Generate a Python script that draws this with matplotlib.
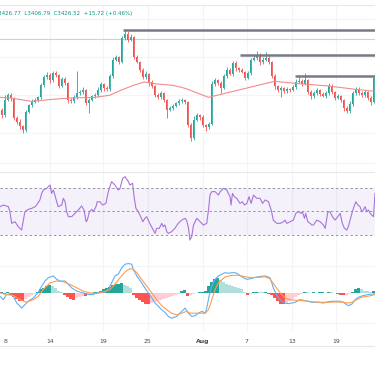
import matplotlib
matplotlib.use("Agg")
import matplotlib.pyplot as plt
import numpy as np

# ---------------- data ----------------
first_open = 3320
closes = [3312, 3335, 3342, 3338, 3308, 3302, 3296, 3290, 3317, 3327,
          3332, 3335, 3339, 3357, 3369, 3372, 3365, 3375, 3372, 3356,
          3366, 3360, 3335, 3333, 3339, 3345, 3347, 3350, 3330, 3335,
          3341, 3342, 3350, 3359, 3353, 3351, 3371, 3395, 3399, 3392,
          3428, 3434, 3425, 3429, 3399, 3392, 3380, 3369, 3374, 3362,
          3356, 3342, 3339, 3345, 3335, 3320, 3323, 3326, 3330, 3333,
          3335, 3332, 3297, 3278, 3305, 3312, 3309, 3297, 3294, 3299,
          3359, 3365, 3360, 3353, 3371, 3380, 3374, 3390, 3383, 3380,
          3377, 3368, 3375, 3395, 3398, 3402, 3392, 3395, 3398, 3392,
          3371, 3356, 3350, 3353, 3348, 3351, 3350, 3354, 3362, 3363,
          3359, 3365, 3347, 3341, 3345, 3350, 3344, 3341, 3345, 3356,
          3347, 3338, 3341, 3335, 3323, 3318, 3329, 3345, 3351, 3345,
          3342, 3347, 3338, 3332, 3368]
upper_wick = [3, 8, 4, 3, 2, 3, 4, 2, 3, 2,
              4, 3, 2, 4, 3, 5, 3, 4, 3, 2,
              4, 3, 2, 3, 4, 34, 3, 4, 2, 3,
              2, 3, 4, 3, 2, 3, 3, 4, 3, 2,
              3, 7, 4, 5, 2, 3, 2, 3, 4, 2,
              3, 2, 3, 4, 2, 2, 3, 3, 2, 4,
              3, 2, 2, 3, 6, 3, 2, 3, 2, 3,
              4, 3, 2, 4, 3, 4, 3, 4, 3, 2,
              3, 2, 4, 3, 4, 7, 3, 4, 9, 3,
              2, 3, 2, 3, 2, 3, 2, 3, 4, 9,
              3, 10, 2, 3, 4, 3, 2, 3, 3, 4,
              3, 2, 3, 2, 2, 3, 4, 3, 4, 3,
              4, 3, 2, 3, 4]
lower_wick = [4, 3, 2, 4, 3, 3, 4, 4, 3, 2,
              3, 2, 3, 2, 3, 2, 4, 3, 2, 3,
              2, 3, 4, 3, 2, 3, 2, 3, 3, 15,
              2, 3, 2, 3, 5, 3, 2, 3, 2, 3,
              2, 3, 3, 2, 3, 2, 3, 3, 2, 6,
              3, 2, 3, 2, 3, 12, 2, 3, 2, 3,
              2, 3, 3, 5, 3, 2, 4, 3, 6, 3,
              2, 3, 2, 8, 2, 3, 2, 3, 4, 3,
              2, 3, 2, 3, 2, 3, 4, 3, 2, 3,
              3, 4, 3, 10, 3, 2, 3, 2, 3, 2,
              3, 2, 3, 4, 3, 2, 3, 2, 3, 2,
              3, 3, 2, 3, 4, 3, 2, 3, 2, 3,
              2, 3, 3, 4, 2]

ma_x = [-0.5, 3, 10, 17, 23, 31, 36, 40, 44, 47.5, 52, 57, 60, 61.5, 69, 91, 98, 109, 118, 124.5]
ma_v = [3339, 3338, 3333, 3336, 3338, 3339, 3342, 3350, 3357, 3362, 3359, 3357, 3354, 3352, 3339, 3363, 3360, 3356, 3351, 3348]

levels = [3440, 3403, 3371]
level_start = [40.5, 79.5, 97.8]
last_price = 3426.5

rsi_x = [-0.5, 0.6, 2.3, 2.8, 3.4, 4.5, 5.6, 6.7, 7.3, 7.8, 8.9, 10.1, 11.2, 11.7, 12.8, 13.4, 13.9,
         15.1, 15.6, 16.2, 16.7, 17.3, 17.8, 18.4, 18.9, 20.1, 20.6, 21.2, 21.7, 22.3, 23.4, 24.5,
         25.6, 26.7, 27.5, 28.2, 28.6, 29.3, 30.1, 30.6, 31.5, 31.9, 32.8, 33.7, 34.8, 35.6, 36.7,
         37.8, 38.9, 39.5, 40.4, 41.2, 42.3, 42.8, 43.7, 44.2, 44.8, 45.6, 46.4, 47.1, 47.8, 48.4,
         48.9, 49.7, 50.6, 51.2, 51.7, 52.6, 53.4, 53.9, 54.5, 55.1, 55.6, 56.7, 57.8, 58.9, 60.1,
         61.2, 61.7, 62.3, 62.8, 63.4, 64.0, 65.1, 66.2, 67.3, 68.4, 69.0, 69.5, 70.1, 71.2, 72.3,
         72.9, 74.0, 75.1, 75.6, 76.2, 76.5, 77.0, 77.6, 78.4, 79.5, 80.3, 81.0, 81.8, 82.5, 83.2,
         84.0, 85.1, 86.2, 87.0, 87.9, 89.0, 89.9, 90.6, 91.8, 92.9, 94.0, 94.5, 95.1, 96.2, 97.3,
         98.1, 99.0, 99.9, 100.3, 101.0, 101.4, 102.1, 102.9, 103.4, 104.0, 105.1, 106.2, 107.3,
         107.9, 108.8, 109.5, 110.3, 111.2, 112.1, 112.9, 113.6, 114.3, 115.1, 115.6, 116.5, 117.3,
         118.1, 118.8, 119.5, 120.1, 120.6, 121.2, 121.8, 122.3, 122.9, 123.4, 124.0, 124.5]
rsi_v = [53.7, 55.1, 53.7, 49.4, 39.5, 40.9, 36.7, 33.8, 42.3, 49.4, 51.4, 52.3, 53.7, 55.1, 59.4, 65.0, 67.9,
         69.3, 70.7, 72.1, 65.0, 67.9, 63.6, 57.9, 53.7, 55.1, 60.8, 57.9, 49.4, 45.2, 45.2, 48.0,
         50.9, 54.3, 50.9, 40.9, 42.3, 49.4, 51.4, 49.4, 53.7, 57.9, 57.9, 55.1, 56.5, 66.5, 75.0,
         72.1, 67.9, 69.3, 77.8, 79.2, 75.0, 72.1, 73.6, 62.2, 52.3, 49.4, 45.2, 40.9, 43.8, 45.2,
         42.3, 38.1, 33.8, 31.0, 35.3, 35.3, 39.5, 36.7, 38.1, 32.4, 31.0, 32.4, 35.3, 39.5, 42.3,
         43.8, 42.0, 36.0, 25.3, 28.2, 38.1, 43.8, 40.9, 38.1, 39.5, 50.9, 63.6, 66.5, 66.5, 63.6,
         66.5, 69.3, 67.9, 65.0, 62.2, 55.1, 65.0, 62.2, 60.8, 56.5, 57.9, 55.1, 56.5, 62.2, 56.5,
         63.6, 60.8, 60.8, 56.5, 59.4, 57.9, 50.9, 42.3, 39.5, 39.5, 40.9, 42.3, 39.5, 40.9, 42.3,
         48.0, 49.4, 48.0, 49.4, 43.8, 48.0, 40.9, 39.5, 38.1, 38.1, 42.3, 40.9, 38.1,
         35.3, 49.4, 49.4, 45.2, 42.3, 45.2, 48.0, 39.5, 35.3, 33.8, 36.7, 45.2, 52.3,
         57.9, 55.1, 53.7, 49.4, 50.9, 53.7, 49.4, 50.9, 48.0, 46.6, 45.2, 65.0]

macd_x = [-0.5, 0.6, 1.7, 2.8, 3.9, 5.1, 6.2, 6.7, 7.8, 8.9, 10.6, 12.3, 13.4, 14.5, 15.6, 17.3, 18.4,
          19.5, 21.2, 22.3, 23.4, 25.1, 27.3, 29.0, 30.6, 31.7, 33.4, 34.5, 35.6, 36.7, 37.8, 38.9,
          40.1, 41.2, 42.3, 43.4, 43.9, 45.1, 46.7, 47.8, 48.9, 50.1, 51.2, 52.3, 53.4, 54.5, 55.6,
          56.7, 58.4, 60.1, 61.2, 62.3, 63.4, 64.5, 65.6, 66.8, 67.9, 68.4, 69.2, 70.1, 71.2, 72.3,
          73.4, 74.5, 75.6, 76.8, 77.9, 79.0, 80.6, 81.8, 82.9, 84.0, 85.6, 87.9, 89.5, 90.1, 90.6,
          91.4, 92.3, 93.4, 94.5, 95.6, 96.8, 97.9, 99.5, 100.6, 101.8, 103.4, 105.6, 107.3, 108.4,
          110.1, 111.8, 112.9, 114.0, 115.1, 115.6, 116.8, 117.9, 119.0, 120.6, 122.3, 124.0, 124.5]
macd_v = [-1.8, -3.5, -1.0, -0.5, -1.8, -5.2, -6.8, -7.7, -6.0, -4.3, -2.7, 0.2, 3.2, 5.7, 7.3, 8.2, 6.5,
          5.7, 5.7, 4.0, 2.3, 0.7, -0.2, -1.0, -1.0, -0.2, 0.2, 0.2, 1.5, 4.8, 8.2, 9.0,
          12.3, 14.0, 14.3, 14.0, 11.5, 8.2, 4.8, 2.3, -0.2, -2.7, -5.2, -6.8, -8.5, -9.8, -11.8,
          -12.7, -11.8, -9.3, -7.7, -10.2, -11.8, -11.5, -10.2, -9.3, -10.2, -7.7, -1.8, 3.2, 6.5, 8.2,
          9.0, 9.8, 9.5, 9.8, 9.8, 9.0, 7.3, 6.5, 6.8, 7.3, 7.8, 8.2, 7.3, 4.8, 2.3,
          -0.2, -2.7, -4.3, -5.2, -5.5, -5.2, -4.8, -3.5, -3.8, -4.3, -4.8, -4.8, -5.2, -4.7,
          -4.3, -4.3, -4.3, -4.8, -6.0, -6.5, -5.7, -3.5, -2.3, -1.5, -1.0, -0.7, -0.2]

sig_x = [-0.5, 1.7, 3.9, 6.2, 8.4, 10.6, 12.3, 13.9, 16.2, 18.4, 20.6, 22.8, 25.1, 27.3, 29.5, 31.7,
         33.9, 36.2, 37.8, 39.5, 41.2, 42.8, 43.9, 45.1, 46.7, 48.4, 50.1, 51.7, 53.4, 55.1, 56.7,
         58.4, 60.1, 61.7, 62.9, 64.5, 66.2, 67.9, 69.0, 70.1, 71.2, 72.3, 74.5, 76.8, 79.0, 81.2,
         83.4, 85.6, 87.9, 89.5, 91.2, 92.9, 94.5, 96.2, 97.9, 100.1, 102.3, 104.5, 106.8, 109.0,
         111.2, 113.4, 115.6, 116.8, 118.4, 120.1, 122.3, 124.0, 124.5]
sig_v = [-0.2, -1.0, -1.5, -3.5, -4.8, -3.5, -1.8, 1.5, 4.8, 5.7, 5.3, 4.0, 2.3, 0.7, -0.2, -0.5,
         0.2, 1.5, 4.0, 7.3, 10.2, 11.8, 11.5, 9.8, 6.5, 3.2, -0.2, -3.5, -6.5, -8.5, -10.2,
         -11.0, -10.2, -9.3, -10.2, -10.2, -10.2, -10.2, -8.5, -3.5, 1.5, 4.8, 7.7, 8.5, 8.5, 7.8,
         7.3, 7.5, 7.8, 6.8, 3.2, -0.2, -2.7, -3.5, -3.8, -4.0, -4.3, -4.7, -4.8, -4.8,
         -4.7, -4.7, -5.2, -4.8, -3.5, -2.3, -1.8, -1.2, -1.0]

hist = [0.5, -0.5, 0.3, -1, -2, -3, -4, -4, -3, -2,
        -1, -0.5, 0.5, 1.5, 2, 3, 3.5, 3, 2, 1,
        0.5, -1, -2, -3, -3.5, -2.5, -2, -1.5, -1.5, -1,
        -0.5, 0.3, 0.5, 1, 1.5, 2, 2.5, 3.5, 4, 4.2,
        4.5, 3.8, 3, 2, -1, -2.5, -3.5, -4.5, -5.5, -5.8,
        -5, -4.5, -4, -3.5, -3, -2.5, -2, -1.5, -1, -0.5,
        1, 1.2, -1.5, -1.2, -0.8, -0.3, 0.2, 0.3, 1, 3,
        5, 6.5, 7, 6, 5, 4.2, 3.5, 3, 2.5, 2,
        1.5, 0.5, -1, -0.8, 0.3, 0.4, 0.3, 0.2, 0.3, -0.5,
        -1, -2.5, -4, -5.5, -5.8, -5, -4, -3, -2, -1,
        -0.5, 0.4, 0.3, -0.3, 0.2, -0.4, 0.3, 0.4, -0.3, 0.5,
        0.3, -0.3, -0.5, -1, -1.2, -1, -0.5, 0.5, 1.5, 2,
        1.5, 1, 0.8, 0.5, 0.8]

tick_pos = [1.2, 16.2, 33.8, 48.8, 67.2, 81.8, 96.8, 111.5]
tick_lab = ["8", "14", "19", "25", "Aug", "7", "13", "19"]
header = "H3426.77  L3406.79  C3426.52  +15.72 (+0.46%)"

# ---------------- styling ----------------
UP = "#26a69a"
DN = "#ef5350"
GRID = "#f3f4f8"
SEP = "#e6e8ee"

fig = plt.figure(figsize=(3.75, 3.66), dpi=100)
H = 366.0
def box(top, bot):
    return [0, 1 - bot / H, 1, (bot - top) / H]

ax_p = fig.add_axes(box(5, 172))
ax_r = fig.add_axes(box(172, 249), sharex=ax_p)
ax_m = fig.add_axes(box(249, 331), sharex=ax_p)

N = len(closes)
idx = np.arange(N)
c = np.array(closes, float)
o = np.concatenate([[first_open], c[:-1]])
hi = np.maximum(o, c) + np.array(upper_wick)
lo = np.minimum(o, c) - np.array(lower_wick)
col = np.where(c >= o, UP, DN)

for ax in (ax_p, ax_r, ax_m):
    for s in ax.spines.values():
        s.set_visible(False)
    ax.tick_params(left=False, right=False, labelleft=False, bottom=False, labelbottom=False)
    for t in tick_pos[1:]:
        ax.axvline(t, color=GRID, lw=0.8, zorder=0)
    ax.set_facecolor("white")

# price panel
ax_p.set_xlim(-0.5, N - 0.5)
ax_p.set_ylim(3485 - 1.5 * 172, 3485 - 1.5 * 5)
for g in [3485 - 1.5 * y for y in (19, 57, 95, 133, 163)]:
    ax_p.axhline(g, color=GRID, lw=0.8, zorder=0)
ax_p.vlines(idx, lo, hi, colors=col, lw=0.6, zorder=2)
body = np.abs(c - o)
body = np.where(body < 0.6, 0.6, body)
ax_p.bar(idx, body, bottom=np.minimum(o, c), width=0.62, color=col, lw=0, zorder=3)
ax_p.plot(ma_x, ma_v, color="#f28b90", lw=0.8, zorder=4)
ax_p.axhline(last_price, color="#b2dfdb", lw=0.8, zorder=1)
for lv, st in zip(levels, level_start):
    ax_p.hlines(lv, st, N, colors="#787b86", lw=1.8, zorder=5)
ax_p.axhline(3485 - 1.5 * 5, color=SEP, lw=0.8)
fig.text(-6 / 375, 1 - 14 / H, header, color="#089981", fontsize=4.0, va="center", ha="left")

# RSI panel
ax_r.set_ylim(17.7, 83.2)
ax_r.axhspan(30, 70, color="#7e57c2", alpha=0.08, lw=0)
for lv in (70, 50, 30):
    ax_r.axhline(lv, color="#9598a1", lw=0.7, ls=(0, (2.5, 2.5)))
ax_r.plot(rsi_x, rsi_v, color="#a874dc", lw=0.8, zorder=3)
ax_r.axhline(83.2, color=SEP, lw=0.8)
ax_r.axhline(17.7, color=SEP, lw=0.8)

# MACD panel
ax_m.set_ylim(-19, 21.5)
for g in (13, -15):
    ax_m.axhline(g, color=GRID, lw=0.8, zorder=0)
h = np.array(hist, float)
prev = np.concatenate([[0], h[:-1]])
hcol = []
for v, p in zip(h, prev):
    if v >= 0:
        hcol.append("#26a69a" if v >= p else "#b2dfdb")
    else:
        hcol.append("#ff5252" if v <= p else "#ffcdd2")
ax_m.bar(idx, h, width=0.7, color=hcol, lw=0, zorder=2)
ax_m.plot(macd_x, macd_v, color="#5fb0f5", lw=0.8, zorder=3)
ax_m.plot(sig_x, sig_v, color="#ff9d4d", lw=0.8, zorder=4)

ax_m.set_xticks(tick_pos)
ax_m.set_xticklabels(tick_lab)
ax_m.tick_params(labelbottom=True, bottom=False, pad=2.5, labelsize=4.4, labelcolor="#4a4a4a")
for lab in ax_m.get_xticklabels():
    if lab.get_text() == "Aug":
        lab.set_fontweight("bold")

fig.add_artist(plt.Line2D([0, 1], [1 - 346 / H, 1 - 346 / H], color=SEP, lw=0.8))

fig.savefig("out.png", dpi=100, facecolor="white")
